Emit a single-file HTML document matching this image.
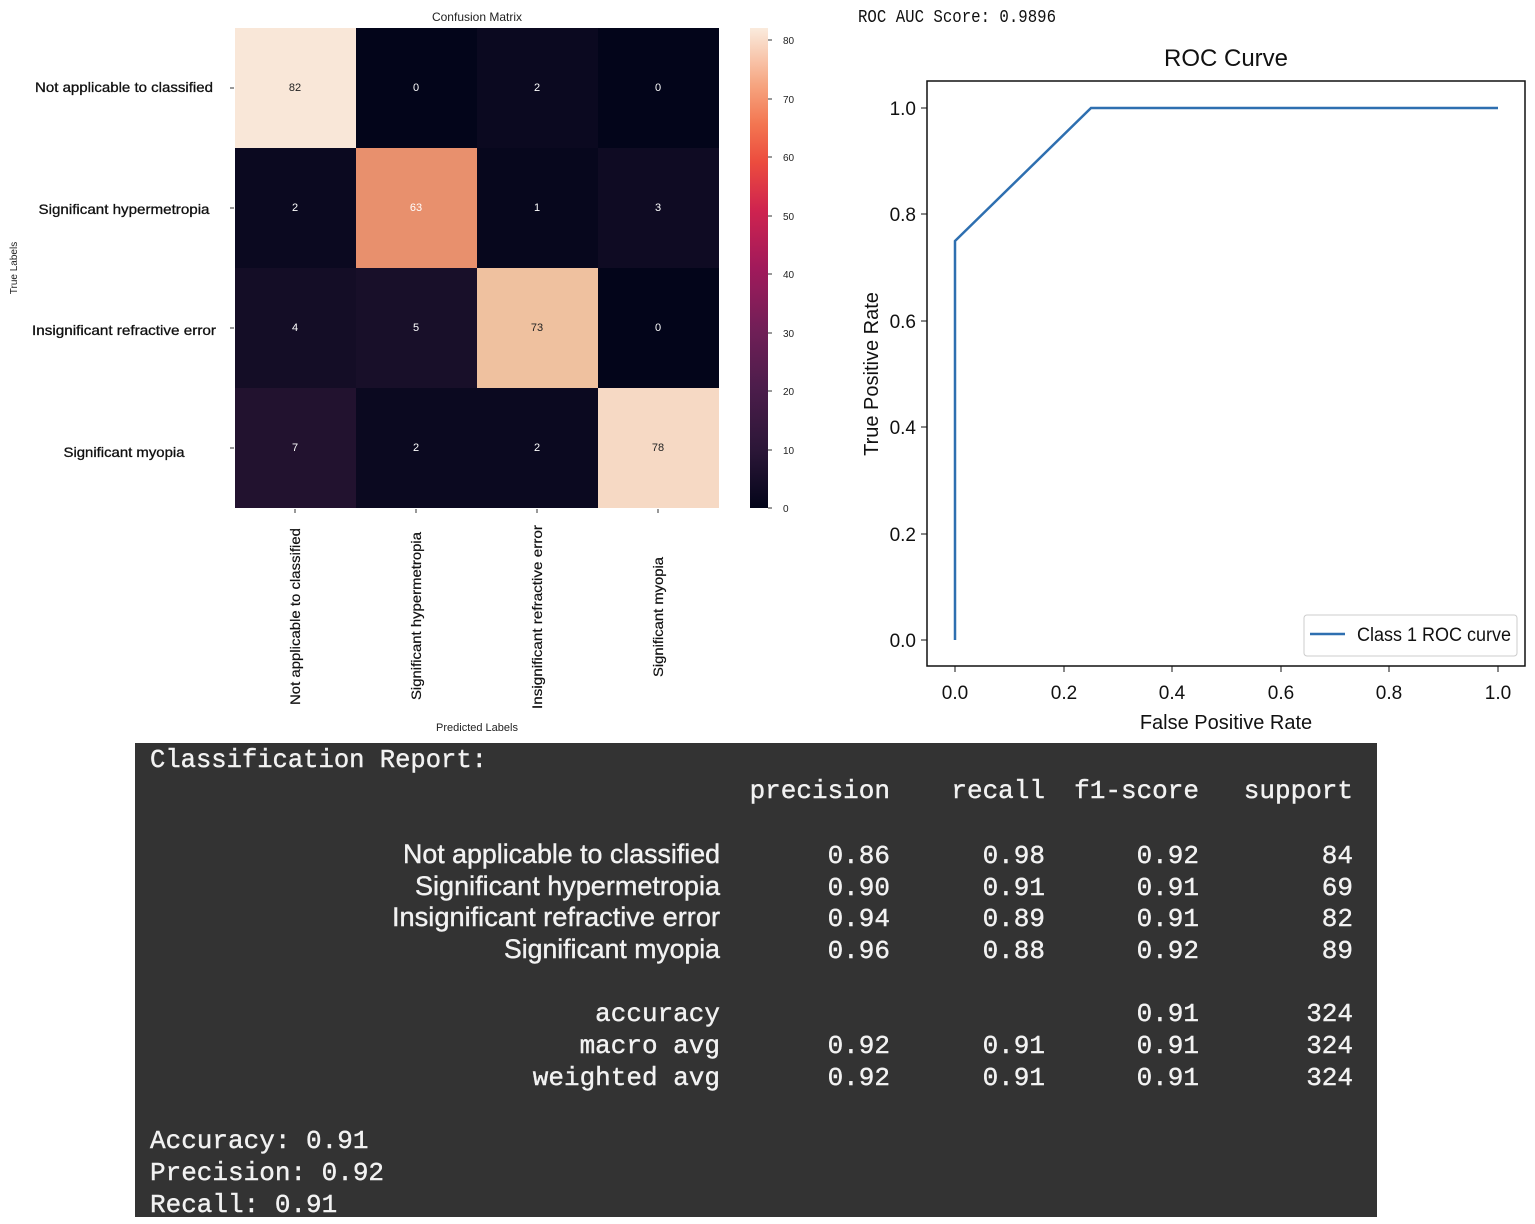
<!DOCTYPE html>
<html><head><meta charset="utf-8"><style>html,body{margin:0;padding:0;background:#fff}svg{display:block}</style></head>
<body>
<svg width="1535" height="1224" viewBox="0 0 1535 1224" xmlns="http://www.w3.org/2000/svg">
<defs>
<linearGradient id="cb" x1="0" y1="1" x2="0" y2="0">
<stop offset="0" stop-color="#03051a"/>
<stop offset="0.12" stop-color="#2b1637"/>
<stop offset="0.25" stop-color="#4c1d4b"/>
<stop offset="0.37" stop-color="#701f57"/>
<stop offset="0.5" stop-color="#a11a5b"/>
<stop offset="0.62" stop-color="#cf234f"/>
<stop offset="0.72" stop-color="#ec4c3e"/>
<stop offset="0.8" stop-color="#f37651"/>
<stop offset="0.88" stop-color="#f6a47f"/>
<stop offset="1" stop-color="#faebdd"/>
</linearGradient>
</defs>
<g font-family="Liberation Sans, sans-serif">
<text x="477" y="21" font-size="12" text-anchor="middle" fill="#222">Confusion Matrix</text>
<rect x="235" y="28" width="121" height="120" fill="#f9e7d8"/>
<rect x="356" y="28" width="121" height="120" fill="#03051a"/>
<rect x="477" y="28" width="121" height="120" fill="#0b0920"/>
<rect x="598" y="28" width="121" height="120" fill="#03051a"/>
<rect x="235" y="148" width="121" height="120" fill="#0b0920"/>
<rect x="356" y="148" width="121" height="120" fill="#e8906d"/>
<rect x="477" y="148" width="121" height="120" fill="#07071d"/>
<rect x="598" y="148" width="121" height="120" fill="#0f0b23"/>
<rect x="235" y="268" width="121" height="120" fill="#140d26"/>
<rect x="356" y="268" width="121" height="120" fill="#180f29"/>
<rect x="477" y="268" width="121" height="120" fill="#efc19f"/>
<rect x="598" y="268" width="121" height="120" fill="#03051a"/>
<rect x="235" y="388" width="121" height="120" fill="#22122f"/>
<rect x="356" y="388" width="121" height="120" fill="#0b0920"/>
<rect x="477" y="388" width="121" height="120" fill="#0b0920"/>
<rect x="598" y="388" width="121" height="120" fill="#f6d9c4"/>
<g font-size="11" text-anchor="middle">
<text x="295" y="91" fill="#222">82</text><text x="416" y="91" fill="#fff">0</text><text x="537" y="91" fill="#fff">2</text><text x="658" y="91" fill="#fff">0</text>
<text x="295" y="211" fill="#fff">2</text><text x="416" y="211" fill="#fff">63</text><text x="537" y="211" fill="#fff">1</text><text x="658" y="211" fill="#fff">3</text>
<text x="295" y="331" fill="#fff">4</text><text x="416" y="331" fill="#fff">5</text><text x="537" y="331" fill="#222">73</text><text x="658" y="331" fill="#fff">0</text>
<text x="295" y="451" fill="#fff">7</text><text x="416" y="451" fill="#fff">2</text><text x="537" y="451" fill="#fff">2</text><text x="658" y="451" fill="#222">78</text>
</g>
<g font-size="14" text-anchor="middle" fill="#111" stroke="#111" stroke-width="0.3">
<text x="124" y="92" textLength="178" lengthAdjust="spacingAndGlyphs">Not applicable to classified</text>
<text x="124" y="214" textLength="171" lengthAdjust="spacingAndGlyphs">Significant hypermetropia</text>
<text x="124" y="335" textLength="184" lengthAdjust="spacingAndGlyphs">Insignificant refractive error</text>
<text x="124" y="457" textLength="121" lengthAdjust="spacingAndGlyphs">Significant myopia</text>
</g>
<g stroke="#333" stroke-width="1">
<line x1="230" y1="88" x2="234" y2="88"/><line x1="230" y1="208" x2="234" y2="208"/><line x1="230" y1="328" x2="234" y2="328"/><line x1="230" y1="448" x2="234" y2="448"/>
<line x1="295" y1="509" x2="295" y2="513"/><line x1="416" y1="509" x2="416" y2="513"/><line x1="537" y1="509" x2="537" y2="513"/><line x1="658" y1="509" x2="658" y2="513"/>
</g>
<text transform="translate(17,268) rotate(-90)" font-size="10" text-anchor="middle" fill="#222">True Labels</text>
<g font-size="14" text-anchor="end" fill="#111" stroke="#111" stroke-width="0.2">
<text transform="translate(300,528) rotate(-90)" textLength="177" lengthAdjust="spacingAndGlyphs">Not applicable to classified</text>
<text transform="translate(421,532) rotate(-90)" textLength="168" lengthAdjust="spacingAndGlyphs">Significant hypermetropia</text>
<text transform="translate(542,525) rotate(-90)" textLength="184" lengthAdjust="spacingAndGlyphs">Insignificant refractive error</text>
<text transform="translate(663,557) rotate(-90)" textLength="120" lengthAdjust="spacingAndGlyphs">Significant myopia</text>
</g>
<text x="477" y="731" font-size="11" text-anchor="middle" fill="#222">Predicted Labels</text>
<rect x="750" y="28" width="18" height="480" fill="url(#cb)"/>
<g font-size="10" fill="#222">
<text x="783" y="512">0</text><text x="783" y="454">10</text><text x="783" y="395">20</text><text x="783" y="337">30</text><text x="783" y="278">40</text><text x="783" y="220">50</text><text x="783" y="161">60</text><text x="783" y="103">70</text><text x="783" y="44">80</text>
</g>
<g stroke="#333"><line x1="768" y1="508" x2="772" y2="508"/><line x1="768" y1="450" x2="772" y2="450"/><line x1="768" y1="391" x2="772" y2="391"/><line x1="768" y1="333" x2="772" y2="333"/><line x1="768" y1="274" x2="772" y2="274"/><line x1="768" y1="216" x2="772" y2="216"/><line x1="768" y1="157" x2="772" y2="157"/><line x1="768" y1="99" x2="772" y2="99"/><line x1="768" y1="40" x2="772" y2="40"/></g>
</g>
<text x="858" y="22" font-family="Liberation Mono, monospace" font-size="18" fill="#111" textLength="198" lengthAdjust="spacingAndGlyphs">ROC AUC Score: 0.9896</text>
<g font-family="Liberation Sans, sans-serif" fill="#111">
<text x="1226" y="66" font-size="24" text-anchor="middle">ROC Curve</text>
<rect x="927" y="81" width="598" height="585" fill="none" stroke="#111" stroke-width="1.5"/>
<polyline points="955,640 955,241 1091,108 1498,108" fill="none" stroke="#2e6fb0" stroke-width="2.5"/>
<g font-size="19" text-anchor="end">
<text x="916" y="647">0.0</text><text x="916" y="541">0.2</text><text x="916" y="434">0.4</text><text x="916" y="328">0.6</text><text x="916" y="221">0.8</text><text x="916" y="115">1.0</text>
</g>
<g stroke="#111"><line x1="921" y1="640" x2="927" y2="640"/><line x1="921" y1="534" x2="927" y2="534"/><line x1="921" y1="427" x2="927" y2="427"/><line x1="921" y1="321" x2="927" y2="321"/><line x1="921" y1="214" x2="927" y2="214"/><line x1="921" y1="108" x2="927" y2="108"/>
<line x1="955" y1="666" x2="955" y2="672"/><line x1="1064" y1="666" x2="1064" y2="672"/><line x1="1172" y1="666" x2="1172" y2="672"/><line x1="1281" y1="666" x2="1281" y2="672"/><line x1="1389" y1="666" x2="1389" y2="672"/><line x1="1498" y1="666" x2="1498" y2="672"/></g>
<g font-size="19" text-anchor="middle">
<text x="955" y="699">0.0</text><text x="1064" y="699">0.2</text><text x="1172" y="699">0.4</text><text x="1281" y="699">0.6</text><text x="1389" y="699">0.8</text><text x="1498" y="699">1.0</text>
</g>
<text x="1226" y="729" font-size="20" text-anchor="middle">False Positive Rate</text>
<text transform="translate(878,374) rotate(-90)" font-size="20" text-anchor="middle">True Positive Rate</text>
<rect x="1304" y="615" width="213" height="41" rx="3" fill="#fff" stroke="#ccc"/>
<line x1="1310" y1="634" x2="1345" y2="634" stroke="#2e6fb0" stroke-width="2.5"/>
<text x="1357" y="641" font-size="19" textLength="154" lengthAdjust="spacingAndGlyphs">Class 1 ROC curve</text>
</g>
<rect x="135" y="743" width="1242" height="474" fill="#333333"/>
<g fill="#f2f2f2" stroke="#f2f2f2" stroke-width="0.4" font-family="Liberation Mono, monospace" font-size="26">
<text x="150" y="767" textLength="337" lengthAdjust="spacingAndGlyphs">Classification Report:</text>
<g text-anchor="end">
<text x="890" y="798">precision</text><text x="1045" y="798">recall</text><text x="1199" y="798">f1-score</text><text x="1353" y="798">support</text>
<text x="890" y="863">0.86</text><text x="1045" y="863">0.98</text><text x="1199" y="863">0.92</text><text x="1353" y="863">84</text>
<text x="890" y="895">0.90</text><text x="1045" y="895">0.91</text><text x="1199" y="895">0.91</text><text x="1353" y="895">69</text>
<text x="890" y="926">0.94</text><text x="1045" y="926">0.89</text><text x="1199" y="926">0.91</text><text x="1353" y="926">82</text>
<text x="890" y="958">0.96</text><text x="1045" y="958">0.88</text><text x="1199" y="958">0.92</text><text x="1353" y="958">89</text>
<text x="720" y="1021">accuracy</text><text x="1199" y="1021">0.91</text><text x="1353" y="1021">324</text>
<text x="720" y="1053">macro avg</text><text x="890" y="1053">0.92</text><text x="1045" y="1053">0.91</text><text x="1199" y="1053">0.91</text><text x="1353" y="1053">324</text>
<text x="720" y="1085">weighted avg</text><text x="890" y="1085">0.92</text><text x="1045" y="1085">0.91</text><text x="1199" y="1085">0.91</text><text x="1353" y="1085">324</text>
</g>
<text x="150" y="1148">Accuracy: 0.91</text>
<text x="150" y="1180">Precision: 0.92</text>
<text x="150" y="1212">Recall: 0.91</text>
</g>
<g fill="#f2f2f2" stroke="#f2f2f2" stroke-width="0.4" font-family="Liberation Sans, sans-serif" font-size="27" text-anchor="end">
<text x="720" y="863" textLength="317" lengthAdjust="spacingAndGlyphs">Not applicable to classified</text>
<text x="720" y="895" textLength="305" lengthAdjust="spacingAndGlyphs">Significant hypermetropia</text>
<text x="720" y="926" textLength="328" lengthAdjust="spacingAndGlyphs">Insignificant refractive error</text>
<text x="720" y="958" textLength="216" lengthAdjust="spacingAndGlyphs">Significant myopia</text>
</g>
</svg>
</body></html>
